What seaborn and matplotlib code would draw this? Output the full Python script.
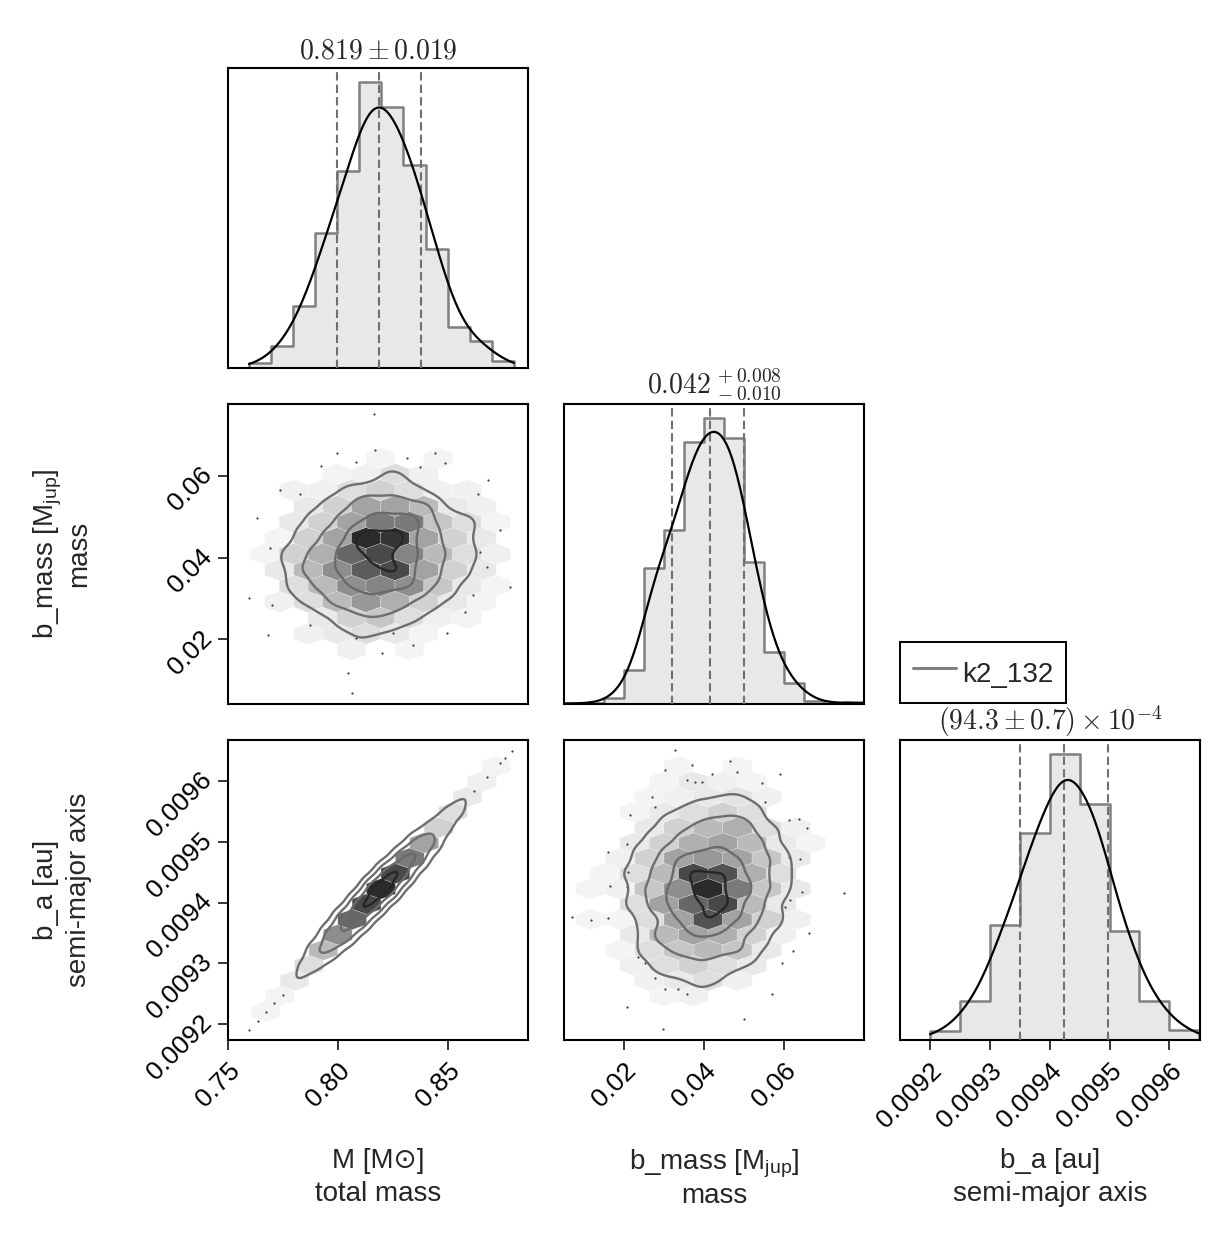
import numpy as np
import pandas as pd
import matplotlib
matplotlib.use("Agg")
import matplotlib.pyplot as plt
from matplotlib.colors import LinearSegmentedColormap
from matplotlib.lines import Line2D
import seaborn as sns

# ---------------- data ----------------
# marginal histograms
m_edges = [0.76, 0.77, 0.78, 0.79, 0.80, 0.81, 0.82, 0.83, 0.84, 0.85, 0.86, 0.87, 0.88]
m_counts = [14, 67, 187, 404, 590, 856, 782, 607, 357, 124, 80, 20]
bmass_edges = [0.005, 0.010, 0.015, 0.020, 0.025, 0.030, 0.035, 0.040,
               0.045, 0.050, 0.055, 0.060, 0.065, 0.070, 0.075, 0.080]
bmass_counts = [2, 2, 17, 100, 395, 505, 762, 830, 772, 413, 150, 60, 10, 2, 5]
a_edges = [0.00920, 0.00925, 0.00930, 0.00935, 0.00940, 0.00945,
           0.00950, 0.00955, 0.00960, 0.00965]
a_counts = [26, 118, 346, 620, 856, 706, 328, 116, 31]

# 16 / 50 / 84 % quantiles
m_q = [0.800, 0.819, 0.838]
bmass_q = [0.0319, 0.0416, 0.0500]
a_q = [0.009351, 0.009424, 0.009498]

m_title = r"$0.819 \pm 0.019$"
bmass_title = r"$0.042^{\,+0.008}_{\,-0.010}$"
a_title = r"$(94.3 \pm 0.7) \times 10^{-4}$"

# axis ranges
m_lim = (0.7505, 0.8864)
bmass_xlim = (0.0049, 0.0801)
bmass_ylim = (0.0042, 0.0776)
a_xlim = (0.00914975, 0.0096513)
a_ylim = (0.0091737, 0.0096675)

m_ticks = [0.75, 0.80, 0.85]
m_ticklabels = ["0.75", "0.80", "0.85"]
bmass_ticks = [0.02, 0.04, 0.06]
bmass_ticklabels = ["0.02", "0.04", "0.06"]
a_ticks = [0.0092, 0.0093, 0.0094, 0.0095, 0.0096]
a_ticklabels = ["0.0092", "0.0093", "0.0094", "0.0095", "0.0096"]

m_label = "M [M\u2299]\ntotal mass"
bmass_label = "b_mass [M$_\\mathrm{jup}$]\nmass"
a_label = "b_a [au]\nsemi-major axis"

# hexbin lattices: (origin, cell size) along each variable
m_lat = (0.7606, 0.0131)
bmass_lat_y = (0.0058, 0.0078)
bmass_lat_x = (0.00788, 0.00736)
a_lat = (0.0089437, 0.0000504)

# hex cell counts, keyed by half-row index, listed by column
cells_bmass_m = {
    15: [0, 0, 0, 0, 0.5, 0, 0.5, 0, 0],
    14: [0, 0, 0, 0.5, 0.7, 1.5, 0.7, 0, 0],
    13: [0, 0.7, 0.7, 1.5, 2.0, 1.5, 0.7, 0.7, 0],
    12: [0, 0, 1.0, 2.0, 4.0, 4.0, 3.0, 1.0, 0.7],
    11: [0, 1.0, 2.0, 4.0, 6.0, 6.0, 2.5, 1.5, 0.5],
    10: [0, 0.5, 2.0, 4.0, 10.0, 9.5, 4.0, 2.0, 1.0],
    9: [0.5, 2.0, 3.5, 7.0, 8.5, 5.5, 3.0, 1.5, 0.7],
    8: [0, 1.0, 3.0, 5.0, 7.5, 8.5, 4.0, 2.0, 1.0],
    7: [0, 1.5, 3.0, 5.0, 5.5, 5.0, 2.5, 1.0, 0.5],
    6: [0, 0.7, 1.5, 3.0, 4.5, 3.5, 2.0, 1.0, 0.5],
    5: [0, 0, 1.0, 2.0, 2.5, 1.5, 0.7, 0.5, 0],
    4: [0, 0, 0.7, 1.0, 1.5, 1.0, 0.5, 0, 0],
    3: [0, 0, 0, 0.7, 0, 0.5, 0, 0, 0],
}
cells_a_m = {
    27: [0, 0, 0, 0, 0, 0, 0, 0, 0.5],
    26: [0, 0, 0, 0, 0, 0, 0, 0, 0.7],
    25: [0, 0, 0, 0, 0, 0, 0, 1.0, 0],
    24: [0, 0, 0, 0, 0, 0, 0, 1.5, 0],
    23: [0, 0, 0, 0, 0, 0, 2.0, 0, 0],
    22: [0, 0, 0, 0, 0, 0, 4.0, 0, 0],
    21: [0, 0, 0, 0, 0, 6.0, 0, 0, 0],
    20: [0, 0, 0, 0, 0, 8.5, 0, 0, 0],
    19: [0, 0, 0, 0, 10.0, 0, 0, 0, 0],
    18: [0, 0, 0, 0, 8.5, 0, 0, 0, 0],
    17: [0, 0, 0, 7.0, 0, 0, 0, 0, 0],
    16: [0, 0, 0, 5.0, 0, 0, 0, 0, 0],
    15: [0, 0, 3.0, 0, 0, 0, 0, 0, 0],
    14: [0, 0, 1.5, 0, 0, 0, 0, 0, 0],
    13: [0, 1.0, 0, 0, 0, 0, 0, 0, 0],
    12: [0, 0.5, 0, 0, 0, 0, 0, 0, 0],
    11: [0.3, 0, 0, 0, 0, 0, 0, 0, 0],
}
cells_a_bmass = {
    27: [0, 0, 0, 0.5, 0, 0.5, 0, 0, 0],
    26: [0, 0, 0, 0.5, 1.0, 0.7, 0.5, 0, 0],
    25: [0, 0, 0.5, 0.7, 1.0, 1.2, 0.7, 0, 0],
    24: [0, 0, 0.5, 1.0, 1.5, 2.0, 1.5, 0, 0],
    23: [0, 0, 1.0, 2.0, 3.0, 3.5, 1.5, 0.7, 0],
    22: [0, 0, 1.0, 2.0, 3.5, 4.0, 3.0, 1.0, 0.5],
    21: [0, 0.7, 2.0, 4.0, 4.5, 4.0, 2.5, 1.0, 0],
    20: [0, 0.5, 1.5, 3.0, 8.5, 8.0, 3.5, 1.5, 0],
    19: [0.5, 0.7, 2.5, 5.0, 10.0, 6.0, 2.5, 1.0, 0],
    18: [0, 0, 1.5, 4.0, 7.0, 8.5, 3.0, 1.0, 0],
    17: [0.5, 0.5, 1.5, 4.0, 8.0, 4.0, 2.0, 0.7, 0],
    16: [0, 0, 1.0, 3.0, 4.0, 3.5, 2.0, 0.7, 0],
    15: [0, 0.5, 1.5, 2.5, 3.0, 2.5, 1.0, 0, 0],
    14: [0, 0, 0.7, 1.5, 2.0, 1.5, 1.0, 0, 0],
    13: [0, 0, 0.7, 1.0, 1.5, 0.7, 0, 0, 0],
    12: [0, 0, 0, 0.5, 0.7, 0, 0, 0, 0],
}

# stray samples outside the hex cells
dots_bmass_m_x = [0.8166, 0.8000, 0.8171, 0.8315, 0.8443, 0.7926, 0.8085, 0.8375, 0.8488,
                  0.8685, 0.7740, 0.7831, 0.7637, 0.8639, 0.8738, 0.8783, 0.7695, 0.8647,
                  0.8677, 0.7601, 0.7704, 0.8617, 0.8579, 0.7688, 0.7876, 0.8084, 0.8254,
                  0.8496, 0.8050, 0.8065, 0.8201, 0.8345]
dots_bmass_m_y = [0.0752, 0.0656, 0.0664, 0.0643, 0.0656, 0.0624, 0.0635, 0.0623, 0.0631,
                  0.0590, 0.0566, 0.0556, 0.0496, 0.0556, 0.0468, 0.0329, 0.0423, 0.0415,
                  0.0378, 0.0301, 0.0284, 0.0309, 0.0268, 0.0211, 0.0235, 0.0203, 0.0215,
                  0.0215, 0.0117, 0.0068, 0.0166, 0.0186]
dots_a_m_x = [0.7597, 0.7635, 0.7672, 0.7710, 0.7748, 0.8617, 0.8677, 0.8738, 0.8760, 0.8791]
dots_a_m_y = [0.009190, 0.009205, 0.009219, 0.009234, 0.009248,
              0.009583, 0.009606, 0.009630, 0.009638, 0.009650]
dots_a_bmass_x = [0.0327, 0.0302, 0.0369, 0.0465, 0.0482, 0.0419, 0.0591, 0.0357, 0.0377,
                  0.0394, 0.0277, 0.0269, 0.0545, 0.0553, 0.0214, 0.0612, 0.0658, 0.0637,
                  0.0160, 0.0206, 0.0210, 0.0612, 0.0641, 0.0164, 0.0206, 0.0116, 0.0068,
                  0.0160, 0.0603, 0.0616, 0.0645, 0.0662, 0.0624, 0.0750, 0.0235, 0.0252,
                  0.0277, 0.0302, 0.0336, 0.0357, 0.0570, 0.0206, 0.0499, 0.0298, 0.0595]
dots_a_bmass_y = [0.009651, 0.009618, 0.009626, 0.009633, 0.009615, 0.009612, 0.009612,
                  0.009602, 0.009599, 0.009599, 0.009557, 0.009574, 0.009596, 0.009566,
                  0.009544, 0.009535, 0.009522, 0.009537, 0.009483, 0.009497, 0.009450,
                  0.009475, 0.009472, 0.009428, 0.009426, 0.009371, 0.009376, 0.009374,
                  0.009393, 0.009404, 0.009417, 0.009349, 0.009321, 0.009416, 0.009310,
                  0.009300, 0.009275, 0.009258, 0.009258, 0.009250, 0.009250, 0.009228,
                  0.009209, 0.009191, 0.009300]

legend_label = "k2_132"

# enclosed mass for the 2, 1.5, 1, 0.5 sigma contours
MASS = [0.8647, 0.6753, 0.3935, 0.1175]
CONTOUR_COLORS = ["#6e6e6e", "#6e6e6e", "#6a6a6a", "#262626"]

# ---------------- style ----------------
sns.set_theme(style="ticks")
plt.rcParams["font.family"] = ["Liberation Sans", "DejaVu Sans"]
plt.rcParams["mathtext.fontset"] = "custom"
plt.rcParams["mathtext.rm"] = "Liberation Sans"
plt.rcParams["mathtext.it"] = "Liberation Sans:italic"
plt.rcParams["axes.edgecolor"] = "black"
plt.rcParams["axes.linewidth"] = 1.5
plt.rcParams["xtick.color"] = "black"
plt.rcParams["ytick.color"] = "black"

FS = 20
TFS = 19
hex_cmap = LinearSegmentedColormap.from_list(
    "hexgrey", [(0.0, "#f4f4f4"), (0.4, "#9c9c9c"), (1.0, "#2b2b2b")])

fig = plt.figure(figsize=(12.32, 12.38), dpi=100)


def panel(col, row):
    left = [228, 564, 900][col] / 1232
    top = [68, 404, 740][row]
    return fig.add_axes([left, 1 - (top + 300) / 1238, 300 / 1232, 300 / 1238])


def hex_points(cells, lat_x, lat_y):
    x0, sx = lat_x
    y0, sy = lat_y
    xs, ys, cs = [], [], []
    for r, row in cells.items():
        for c, v in enumerate(row):
            if v > 0:
                xs.append(x0 + (c + 0.5 * (r % 2)) * sx)
                ys.append(y0 + 0.5 * r * sy)
                cs.append(v)
    nx = max(len(row) for row in cells.values()) + 1
    ny = max(cells) // 2 + 2
    extent = (x0, x0 + nx * sx, y0, y0 + ny * sy)
    return np.array(xs), np.array(ys), np.array(cs), (nx, ny), extent


def hex_density(cells, lat_x, lat_y, xlim, ylim, n=300, smooth=7.0):
    # spread every hex count over its cell area, then blur a little
    x0, sx = lat_x
    y0, sy = lat_y
    gx = np.linspace(xlim[0], xlim[1], n)
    gy = np.linspace(ylim[0], ylim[1], n)
    X, Y = np.meshgrid(gx, gy)
    ix = (X - x0) / sx
    iy = (Y - y0) / sy
    ix1, iy1 = np.round(ix), np.round(iy)
    ix2, iy2 = np.floor(ix), np.floor(iy)
    d1 = (ix - ix1) ** 2 + 3 * (iy - iy1) ** 2
    d2 = (ix - ix2 - 0.5) ** 2 + 3 * (iy - iy2 - 0.5) ** 2
    first = d1 < d2
    r = np.where(first, 2 * iy1, 2 * iy2 + 1).astype(int)
    c = np.where(first, ix1, ix2).astype(int)
    table = np.zeros((max(cells) + 2, max(len(v) for v in cells.values()) + 1))
    for rr, row in cells.items():
        table[rr, :len(row)] = row
    ok = (r >= 0) & (r < table.shape[0]) & (c >= 0) & (c < table.shape[1])
    Z = np.zeros_like(X)
    Z[ok] = table[r[ok], c[ok]]
    k = np.exp(-0.5 * (np.arange(-22, 23) / smooth) ** 2)
    k /= k.sum()
    Z = np.apply_along_axis(lambda v: np.convolve(v, k, mode="same"), 0, Z)
    Z = np.apply_along_axis(lambda v: np.convolve(v, k, mode="same"), 1, Z)
    zs = np.sort(Z.ravel())[::-1]
    cum = np.cumsum(zs) / zs.sum()
    levels = [zs[np.searchsorted(cum, p)] for p in MASS]
    return gx, gy, Z, levels


def diag(ax, edges, counts, q, title, xlim):
    counts = np.asarray(counts, float)
    e = np.asarray(edges)
    df = pd.DataFrame({"x": (e[:-1] + e[1:]) / 2, "w": counts})
    sns.histplot(data=df, x="x", weights="w", bins=list(edges), stat="density",
                 element="step", fill=True, facecolor="#e8e8e8",
                 edgecolor="#808080", linewidth=1.8, alpha=1, ax=ax, zorder=1)
    sns.kdeplot(data=df, x="x", weights="w", bw_adjust=0.55,
                clip=(edges[0], edges[-1]), color="black", linewidth=1.6,
                ax=ax, zorder=4)
    kde_max = ax.lines[-1].get_ydata().max()
    for v in q:
        ax.axvline(v, color="#707070", lw=1.5, ls=(0, (4, 2)), zorder=3)
    dens_max = (counts / (counts.sum() * np.diff(e))).max()
    ax.set_ylim(0, 1.05 * max(kde_max, dens_max))
    ax.set_xlim(xlim)
    ax.set_yticks([])
    ax.set_xlabel("")
    ax.set_ylabel("")
    ax.set_title(title, fontsize=20, math_fontfamily="cm", pad=7)


def pair(ax, cells, lat_x, lat_y, dx, dy, xlim, ylim):
    xs, ys, cs, grid, extent = hex_points(cells, lat_x, lat_y)
    ax.hexbin(xs, ys, C=cs, reduce_C_function=np.sum, gridsize=grid,
              extent=extent, cmap=hex_cmap, vmin=0.5, vmax=10,
              linewidths=0.4, edgecolors=(1, 1, 1, 0.35), zorder=1)
    sns.scatterplot(x=dx, y=dy, s=2.5, color="#3a3a3a", linewidth=0,
                    ax=ax, zorder=2)
    gx, gy, Z, levels = hex_density(cells, lat_x, lat_y, xlim, ylim)
    ax.contour(gx, gy, Z, levels=levels, colors=CONTOUR_COLORS,
               linewidths=1.7, zorder=3)
    ax.set_xlim(xlim)
    ax.set_ylim(ylim)
    ax.set_xlabel("")
    ax.set_ylabel("")


ax11 = panel(0, 0)
diag(ax11, m_edges, m_counts, m_q, m_title, m_lim)

ax22 = panel(1, 1)
diag(ax22, bmass_edges, bmass_counts, bmass_q, bmass_title, bmass_xlim)

ax33 = panel(2, 2)
diag(ax33, a_edges, a_counts, a_q, a_title, a_xlim)

ax21 = panel(0, 1)
pair(ax21, cells_bmass_m, m_lat, bmass_lat_y, dots_bmass_m_x, dots_bmass_m_y,
     m_lim, bmass_ylim)

ax31 = panel(0, 2)
pair(ax31, cells_a_m, m_lat, a_lat, dots_a_m_x, dots_a_m_y, m_lim, a_ylim)

ax32 = panel(1, 2)
pair(ax32, cells_a_bmass, bmass_lat_x, a_lat, dots_a_bmass_x, dots_a_bmass_y,
     bmass_xlim, a_ylim)

for ax in [ax11, ax22, ax33, ax21, ax31, ax32]:
    for s in ax.spines.values():
        s.set_color("black")
        s.set_linewidth(1.5)
    ax.tick_params(direction="out", length=7.5, width=1.1, labelsize=TFS)
    ax.tick_params(axis="x", pad=6)
    ax.tick_params(axis="y", pad=3)

# ticks
for ax in [ax11, ax22, ax21]:
    ax.set_xticks([])
ax32.set_yticks([])

xtick_kw = dict(rotation=45, ha="right", va="top", rotation_mode="anchor")
ytick_kw = dict(rotation=45, ha="right", va="baseline", rotation_mode="anchor")
ax21.set_yticks(bmass_ticks)
ax21.set_yticklabels(bmass_ticklabels, **ytick_kw)
ax31.set_yticks(a_ticks)
ax31.set_yticklabels(a_ticklabels, **ytick_kw)
ax31.set_xticks(m_ticks)
ax31.set_xticklabels(m_ticklabels, **xtick_kw)
ax32.set_xticks(bmass_ticks)
ax32.set_xticklabels(bmass_ticklabels, **xtick_kw)
ax33.set_xticks(a_ticks)
ax33.set_xticklabels(a_ticklabels, **xtick_kw)

# axis labels (the line with a subscript is taller, so it gets less spacing)
spacing = {m_label: 1.37, bmass_label: 1.12, a_label: 1.37}
for ax, lab in [(ax31, m_label), (ax32, bmass_label), (ax33, a_label)]:
    ax.set_xlabel(lab, fontsize=FS, linespacing=spacing[lab])
    ax.xaxis.set_label_coords(0.5, -0.36)
for ax, lab in [(ax21, bmass_label), (ax31, a_label)]:
    ax.set_ylabel(lab, fontsize=FS, linespacing=spacing[lab])
    ax.yaxis.set_label_coords(-0.453, 0.5)

handle = Line2D([], [], color="#808080", lw=2.2, label=legend_label)
leg = fig.legend(handles=[handle], loc="lower left",
                 bbox_to_anchor=(900 / 1232, 1 - 703 / 1238), fontsize=FS,
                 frameon=True, fancybox=False, edgecolor="black", framealpha=1,
                 borderaxespad=0, handlelength=1.55, handletextpad=0.25,
                 handleheight=1.6, borderpad=0.45)
leg.get_frame().set_linewidth(1.4)

fig.savefig("out.png", dpi=100)
